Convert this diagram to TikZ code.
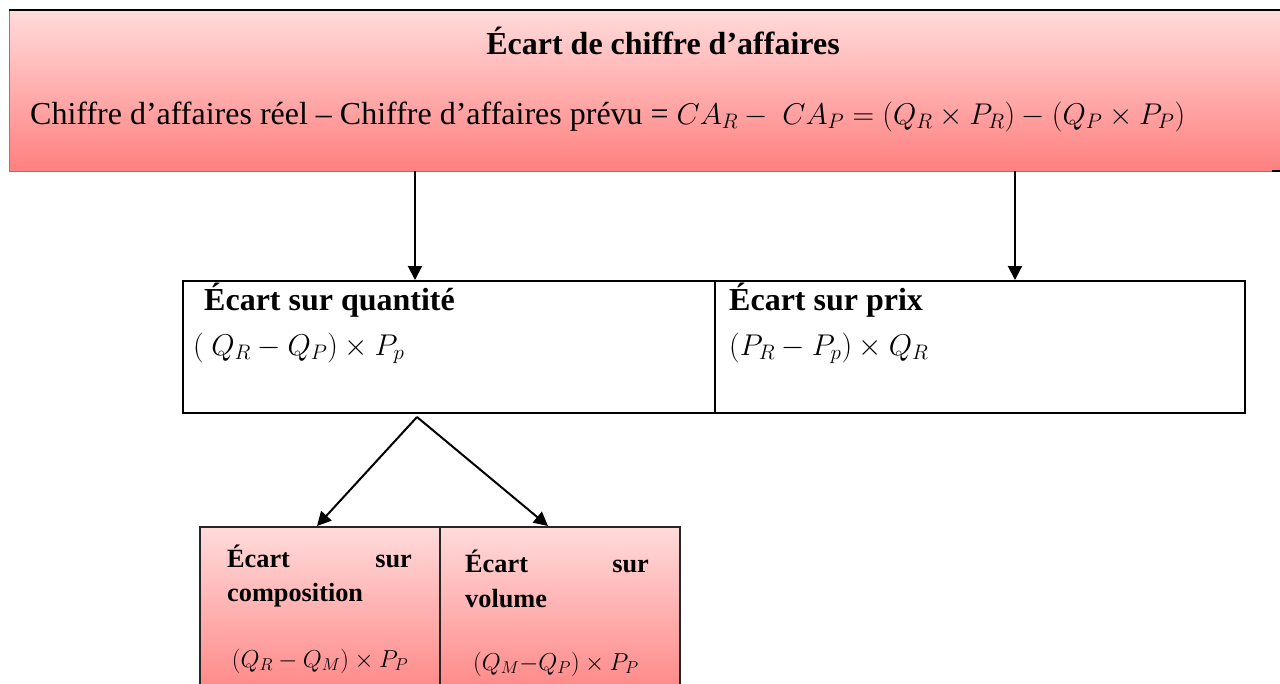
\RequirePackage{fix-cm}
\documentclass[tikz,border=0pt]{standalone}
\usepackage{fontspec}
\setmainfont{Liberation Serif}
\usetikzlibrary{arrows.meta,calc}
\definecolor{pinkTop}{RGB}{255,219,219}
\definecolor{pinkBot}{RGB}{255,128,128}
\definecolor{edgeGray}{RGB}{128,128,128}
\newcommand\bigmath[1]{{\fontsize{30}{36}\selectfont$#1$}}
\newcommand\smallmath[1]{{\fontsize{24.5}{29}\selectfont$#1$}}
\begin{document}
\begin{tikzpicture}[x=1pt,y=-1pt,
  bigfont/.style={font=\fontsize{32}{38}\selectfont},
  smallfont/.style={font=\fontsize{26.3}{31}\selectfont},
  txt/.style={inner sep=0pt,anchor=base west},
  pinkbox/.style={rectangle,inner sep=0pt,top color=pinkTop,bottom color=pinkBot,anchor=north west},
  cell/.style={rectangle,inner sep=0pt,anchor=north west,draw=black,line width=2pt},
  arr/.style={line width=2pt,-{Triangle[width=14pt,length=14pt]}}]
\useasboundingbox (0,0) rectangle (1280,683);
\clip (0,0) rectangle (1280,683);
\fill[white] (0,0) rectangle (1280,683);

% top box
\node[pinkbox,minimum width=1281pt,minimum height=161pt] (top) at (9,10) {};
\draw[edgeGray,line width=1pt] (top.north west) -- (top.south west) -- (1272,0 |- top.south);
\draw[black,line width=2pt] (1272,0 |- top.south) -- (top.south east);
\draw[black,line width=2.5pt] (top.north west) -- (top.north east);
\node[txt,bigfont,anchor=base] (title) at (663,54) {\bfseries Écart de chiffre d’affaires};
\node[txt,bigfont] (formula) at (30,124) {Chiffre d’affaires réel – Chiffre d’affaires prévu = \bigmath{CA_R -\ CA_P = (Q_R \times P_R) - (Q_P \times P_P)}};

% middle boxes
\node[cell,minimum width=532pt,minimum height=132pt] (qte) at (182,280) {};
\node[cell,minimum width=530pt,minimum height=132pt] (prix) at (714,280) {};
\node[txt,bigfont] (qtitle) at (204,310) {\bfseries Écart sur quantité};
\node[txt,bigfont] (qform) at (193,355) {\bigmath{(\ Q_R - Q_P) \times P_p}};
\node[txt,bigfont] (ptitle) at (729,310) {\bfseries Écart sur prix};
\node[txt,bigfont] (pform) at (729,355) {\bigmath{(P_R - P_p) \times Q_R}};

% arrows from top box
\draw[arr] (415,0 |- top.south) -- (415,0 |- qte.north);
\draw[arr] (1015,0 |- top.south) -- (1015,0 |- prix.north);

% bottom boxes
\node[pinkbox,minimum width=240pt,minimum height=180pt,draw=black!85,line width=1.5pt] (comp) at (199,526) {};
\node[pinkbox,minimum width=240pt,minimum height=180pt,draw=black!85,line width=1.5pt] (vol) at (439,526) {};
\node[txt,smallfont] (c1) at (227,567) {\bfseries Écart};
\node[txt,smallfont,anchor=base east] (c2) at (412,567) {\bfseries sur};
\node[txt,smallfont] (c3) at (227,601) {\bfseries composition};
\node[txt,smallfont,anchor=base] (c4) at (320,667) {\smallmath{(Q_R - Q_M) \times P_P}};
\node[txt,smallfont] (v1) at (465,572) {\bfseries Écart};
\node[txt,smallfont,anchor=base east] (v2) at (649,572) {\bfseries sur};
\node[txt,smallfont] (v3) at (465,607) {\bfseries volume};
\node[txt,smallfont,anchor=base] (v4) at (556,670) {\smallmath{(Q_M{-}Q_P) \times P_P}};

% split arrows
\coordinate (apex) at (417,417);
\draw[arr] (apex) -- (317,0 |- comp.north);
\draw[arr] (apex) -- (548,0 |- vol.north);
\end{tikzpicture}
\end{document}
